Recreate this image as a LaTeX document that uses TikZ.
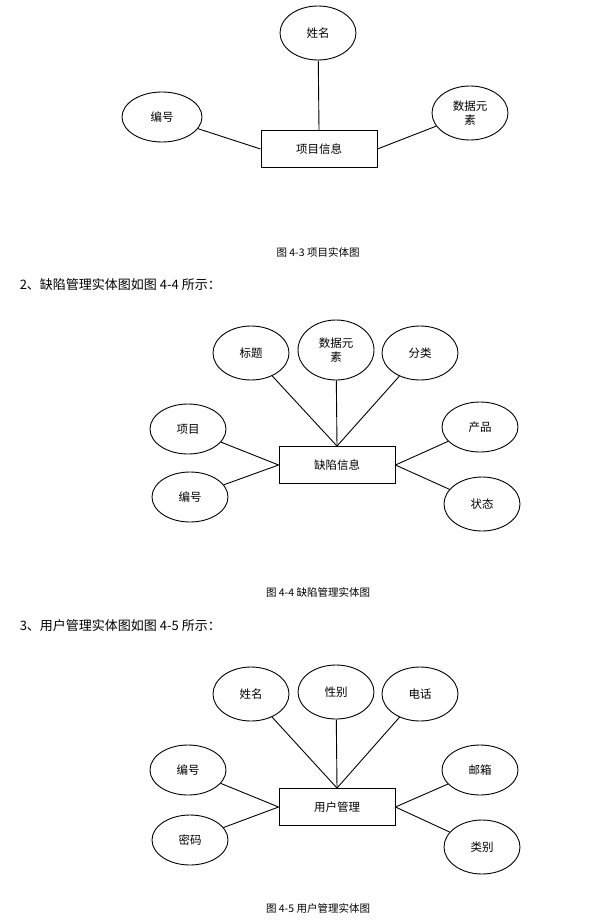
\documentclass[tikz,border=0pt]{standalone}
\usepackage{fontspec}
\setmainfont{Noto Sans CJK SC}
\usetikzlibrary{shapes.geometric}
\tikzset{
  attr/.style={draw, ellipse, minimum width=76pt, minimum height=54pt, inner sep=0pt, align=center, font=\fontsize{11.5}{14}\selectfont},
  ent/.style={draw, minimum width=116pt, minimum height=37pt, inner sep=0pt, font=\fontsize{11.5}{14}\selectfont},
  figcap/.style={font=\fontsize{10.5}{12}\selectfont},
  para/.style={anchor=west, font=\fontsize{13}{15}\selectfont}
}
\begin{document}
\begin{tikzpicture}[x=1pt, y=-1pt, line width=0.9pt]
\useasboundingbox (0,0) rectangle (613,923);

% figure 4-3
\node[ent] (proj) at (319,149) {项目信息};
\node[attr] (pname) at (318,33) {姓名};
\node[attr, minimum width=80pt, minimum height=50pt] (pid) at (162,117) {编号};
\node[attr] (pdata) at (470,113) {数据元\\素};
\draw (pname) -- (proj.north);
\draw (pid) -- (proj.west);
\draw (pdata) -- (proj.east);
\node[figcap] (cap3) at (318,252) {图 4-3 项目实体图};

% figure 4-4
\node[para] (txt4) at (16,285) {2、缺陷管理实体图如图 4-4 所示：};
\node[ent] (bug) at (337,465) {缺陷信息};
\node[attr] (btitle) at (251,353) {标题};
\node[attr, minimum height=60pt] (bdata) at (336,350) {数据元\\素};
\node[attr] (bcls) at (420,353) {分类};
\node[attr, minimum height=50pt] (bproj) at (188,429) {项目};
\node[attr, minimum height=50pt] (bid) at (190,497) {编号};
\node[attr, minimum height=50pt] (bprod) at (480,427) {产品};
\node[attr] (bstate) at (482,504) {状态};
\foreach \a in {btitle,bdata,bcls} \draw (\a) -- (bug.north);
\foreach \a in {bproj,bid} \draw (\a) -- (bug.west);
\foreach \a in {bprod,bstate} \draw (\a) -- (bug.east);
\node[figcap] (cap4) at (318,592) {图 4-4 缺陷管理实体图};

% figure 4-5
\node[para] (txt5) at (16,626) {3、用户管理实体图如图 4-5 所示：};
\node[ent] (user) at (337,807) {用户管理};
\node[attr] (uname) at (251,694) {姓名};
\node[attr] (usex) at (336,692) {性别};
\node[attr] (utel) at (420,694) {电话};
\node[attr, minimum height=50pt] (uid) at (188,770) {编号};
\node[attr, minimum height=50pt] (upwd) at (190,840) {密码};
\node[attr, minimum height=50pt] (umail) at (480,770) {邮箱};
\node[attr] (ukind) at (482,847) {类别};
\foreach \a in {uname,usex,utel} \draw (\a) -- (user.north);
\foreach \a in {uid,upwd} \draw (\a) -- (user.west);
\foreach \a in {umail,ukind} \draw (\a) -- (user.east);
\node[figcap] (cap5) at (318,908) {图 4-5 用户管理实体图};
\end{tikzpicture}
\end{document}
